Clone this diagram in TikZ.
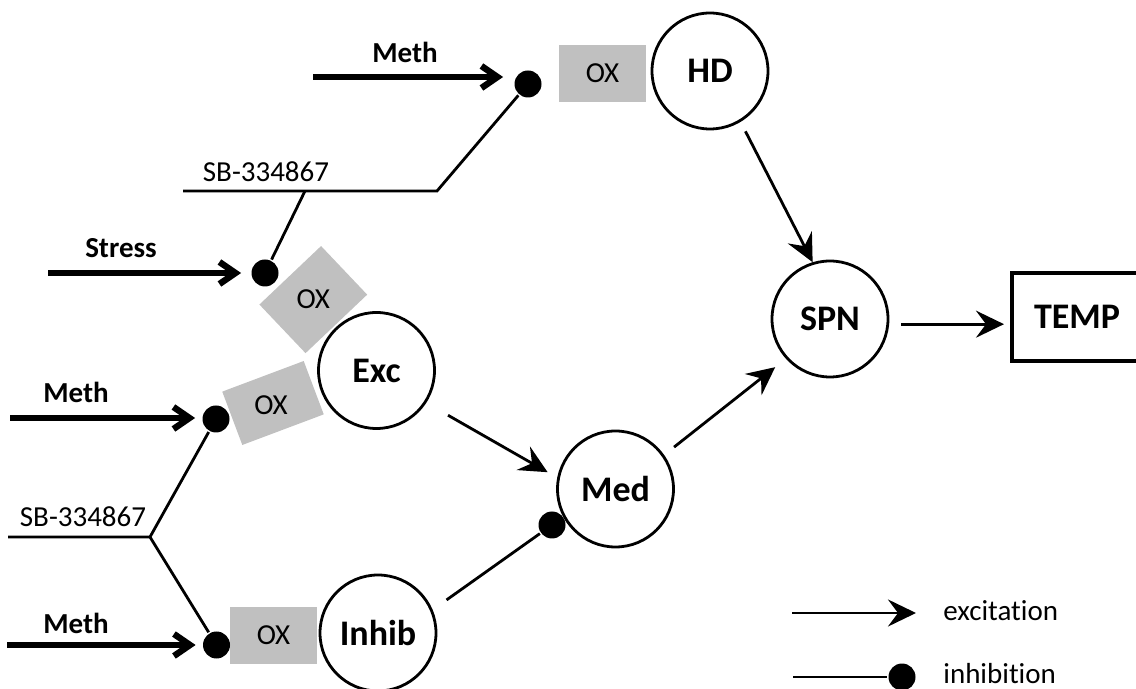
\documentclass[tikz,border=0pt]{standalone}
\usepackage{fontspec}
\setmainfont{Carlito}[Ligatures=NoCommon]
\usetikzlibrary{arrows.meta}
\definecolor{oxgray}{RGB}{192,192,192}

\begin{document}
\begin{tikzpicture}[x=0.5pt, y=-0.5pt, line width=1.4pt,
  lbl/.style={font=\fontsize{14.5}{17}\selectfont, inner sep=0pt},
  blbl/.style={inner sep=0pt, font=\bfseries\fontsize{14.5}{17}\selectfont},
  cell/.style={circle, draw, line width=1.4pt, minimum size=58pt, inner sep=0pt, font=\bfseries\fontsize{18}{21}\selectfont},
  oxbox/.style={fill=oxgray, minimum width=43.5pt, minimum height=28.5pt, inner sep=0pt},
  blob/.style={circle, fill=black, minimum size=13.5pt, inner sep=0pt},
  exc/.style={-{Stealth[length=14pt, width=13.5pt, inset=5pt]}},
  drug/.style={line width=3.2pt, -{Straight Barb[length=8pt, width=11pt]}}]
  \useasboundingbox (0,0) rectangle (1136,689);

  % cell groups
  \node[cell] (HD) at (710,71) {HD};
  \node[cell] (Exc) at (376.5,370.5) {Exc};
  \node[cell] (Inhib) at (378,633) {Inhib};
  \node[cell] (Med) at (615.5,489) {Med};
  \node[cell] (SPN) at (830,319) {SPN};
  \node[draw, line width=2pt, minimum width=65pt, minimum height=44pt, inner sep=0pt,
        font=\bfseries\fontsize{18}{21}\selectfont] (TEMP) at (1077,317) {TEMP};

  % orexin receptors in front of the cells
  \node[oxbox, lbl] (oxHD) at (602.5,73.5) {OX};
  \node[oxbox, minimum width=42.5pt, minimum height=33.5pt, rotate=43.5] (oxStr) at (313.3,299.6) {};
  \node[lbl] (oxStrT) at (oxStr) {OX};
  \node[oxbox, rotate=20.6] (oxExc) at (273,403) {};
  \node[lbl] (oxExcT) at (271,405) {OX};
  \node[oxbox, lbl] (oxInh) at (273.5,635.5) {OX};

  % inhibition points
  \node[blob] (dHD) at (528,84) {};
  \node[blob] (dStr) at (265,273) {};
  \node[blob] (dExc) at (216,419) {};
  \node[blob] (dInh) at (216.5,645) {};
  \node[blob] (dMed) at (552,525) {};

  % antagonist lines
  \coordinate (sbTop) at (183,191);
  \coordinate (kTop) at (437,191);
  \coordinate (bTop) at (305,191);
  \coordinate (sbLow) at (8,537);
  \coordinate (bLow) at (150,537);
  \draw (sbTop) -- (kTop) -- (dHD);
  \draw (bTop) -- (dStr);
  \draw (sbLow) -- (bLow) -- (dExc);
  \draw (bLow) -- (dInh);
  \node[lbl, anchor=base] (sb1) at (266,182) {SB-334867};
  \node[lbl, anchor=base] (sb2) at (83,527) {SB-334867};

  % drug and stress inputs
  \coordinate (mTop) at (313,77);
  \coordinate (sIn) at (48,273);
  \coordinate (mMid) at (10,418);
  \coordinate (mLow) at (7,645);
  \draw[drug, shorten >=5pt] (mTop) -- (mTop -| dHD.west);
  \draw[drug, shorten >=4.5pt] (sIn) -- (dStr.west);
  \draw[drug, shorten >=3pt] (mMid) -- (mMid -| dExc.west);
  \draw[drug, shorten >=3pt] (mLow) -- (dInh.west);
  \node[blbl, anchor=base] (methTop) at (405,63) {Meth};
  \node[blbl, anchor=base] (stress) at (121,258) {Stress};
  \node[blbl, anchor=base] (methMid) at (76,403) {Meth};
  \node[blbl, anchor=base] (methLow) at (76,633) {Meth};

  % circuit
  \draw[exc, shorten <=5.3pt] (HD.-59) -- (SPN.107);
  \draw[exc, shorten <=12.5pt, shorten >=5.5pt] (Exc.-33) -- (Med.169);
  \draw[shorten <=8.5pt] (Inhib.23) -- (dMed);
  \draw[exc, shorten <=6.3pt, shorten >=6.8pt] (Med.35) -- (SPN.222);
  \draw[exc, shorten <=6pt, shorten >=3pt] (SPN.-5) -- (SPN.-5 -| TEMP.west);

  % legend
  \coordinate (lgA) at (792,613);
  \coordinate (lgB) at (793,677);
  \node[blob] (dLeg) at (902,677) {};
  \node[lbl, anchor=base west] (lgExc) at (942,620) {excitation};
  \node[lbl, anchor=base west] (lgInh) at (942,683) {inhibition};
  \draw[exc] (lgA) -- (lgA -| lgExc.west) [shorten >=13pt];
  \draw (lgB) -- (dLeg);
\end{tikzpicture}
\end{document}
